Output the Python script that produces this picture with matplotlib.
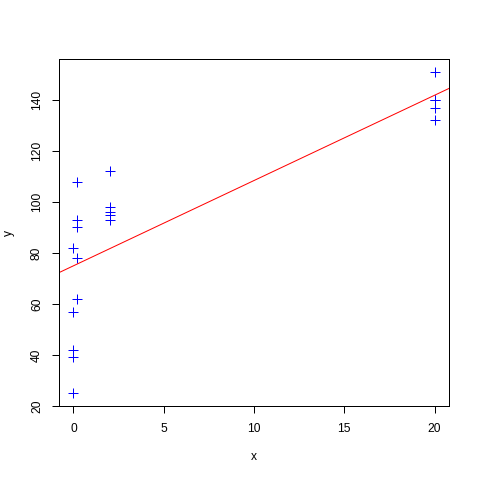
import matplotlib
matplotlib.use("Agg")
import matplotlib.pyplot as plt
import numpy as np

plt.rcParams['font.family'] = ['Liberation Sans', 'DejaVu Sans']

x = [0, 0, 0, 0, 0,
     0.2, 0.2, 0.2, 0.2, 0.2,
     2, 2, 2, 2, 2,
     20, 20, 20, 20, 20]
y = [25, 39, 42, 57, 82,
     62, 78, 90, 93, 108,
     93, 95, 96, 98, 112,
     132, 137, 140, 140, 151]
xticks = [0, 5, 10, 15, 20]
yticks = [20, 40, 60, 80, 100, 120, 140]

fig = plt.figure(figsize=(480/72, 480/72), dpi=72)
ax = fig.add_axes([59/480, 74/480, 390/480, 347/480])

ax.plot(x, y, linestyle='none', marker='+', color='blue', markersize=10, markeredgewidth=1)

slope, intercept = np.polyfit(x, y, 1)
xr = (min(x) - 0.04*(max(x)-min(x)), max(x) + 0.04*(max(x)-min(x)))
yr = (min(y) - 0.04*(max(y)-min(y)), max(y) + 0.04*(max(y)-min(y)))
ax.set_xlim(xr)
ax.set_ylim(yr)
lx = np.array(xr)
ax.plot(lx, intercept + slope*lx, color='red', linewidth=1)

ax.set_xticks(xticks)
ax.set_yticks(yticks)
ax.set_yticklabels([str(v) for v in yticks], rotation=90, va='center')
ax.tick_params(direction='out', length=7, width=1, labelsize=12, colors='black')
ax.tick_params(axis='x', pad=10)
ax.tick_params(axis='y', pad=9)
for s in ax.spines.values():
    s.set_linewidth(1)
    s.set_color('black')
ax.set_xlabel('x', fontsize=12, labelpad=16)
ax.set_ylabel('y', fontsize=12, labelpad=16)

fig.savefig('out.png', dpi=72)
